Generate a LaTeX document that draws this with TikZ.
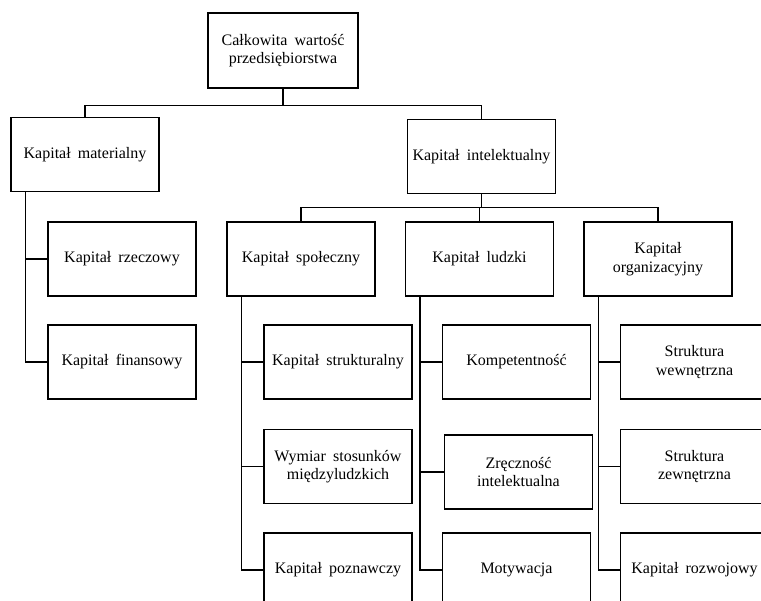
\documentclass[tikz,border=0pt]{standalone}
\usepackage{fontspec}
\setmainfont{Liberation Serif}
\begin{document}
\begin{tikzpicture}[x=1pt,y=-1pt,
    box/.style={draw, line width=1.4pt, minimum width=148pt, minimum height=74pt,
        align=center, inner sep=2pt, font={\fontsize{16}{18.5}\selectfont\spaceskip=0.45em\relax}},
    link/.style={line width=1.4pt}]
        \useasboundingbox (0,0) rectangle (761,601);
        \clip (0,0) rectangle (761,601);
        \node[box, minimum width=150pt, minimum height=75pt] (total) at (283,50.5) {Całkowita wartość\\przedsiębiorstwa};
        \node[box] (mat) at (85,154.5) {Kapitał materialny};
        \node[box] (int) at (481.5,156.5) {Kapitał intelektualny};
        \node[box] (rze) at (122,259) {Kapitał rzeczowy};
        \node[box] (fin) at (122,362) {Kapitał finansowy};
        \node[box] (spo) at (301,259) {Kapitał społeczny};
        \node[box] (lud) at (479.5,259) {Kapitał ludzki};
        \node[box] (org) at (658,259) {Kapitał\\organizacyjny};
        \foreach \n/\x/\y/\txt in {spoA/338/362/{Kapitał strukturalny}, spoB/338/466.5/{Wymiar stosunków\\międzyludzkich}, spoC/338/570/{Kapitał poznawczy},
                ludA/516.5/362/{Kompetentność}, ludB/518.5/472/{Zręczność\\intelektualna}, ludC/516.5/570/{Motywacja},
                orgA/694.5/362/{Struktura\\wewnętrzna}, orgB/694.5/466.5/{Struktura\\zewnętrzna}, orgC/694.5/570/{Kapitał rozwojowy}} {
            \node[box] (\n) at (\x,\y) {\txt};
        }
        \draw[link] (total.south) -- ++(0,17) -| (mat.north);
        \draw[link] (total.south) -- ++(0,17) -| (int.north);
        \foreach \c in {spo,lud,org} {
            \draw[link] (int.south) -- ++(0,13.5) -| (\c.north);
        }
        \foreach \p/\c in {mat/rze,mat/fin,spo/spoA,spo/spoB,spo/spoC,lud/ludA,lud/ludB,lud/ludC,org/orgA,org/orgB,org/orgC} {
            \draw[link] ([xshift=15pt]\p.south west) |- (\c.west);
        }
    \end{tikzpicture}
\end{document}
